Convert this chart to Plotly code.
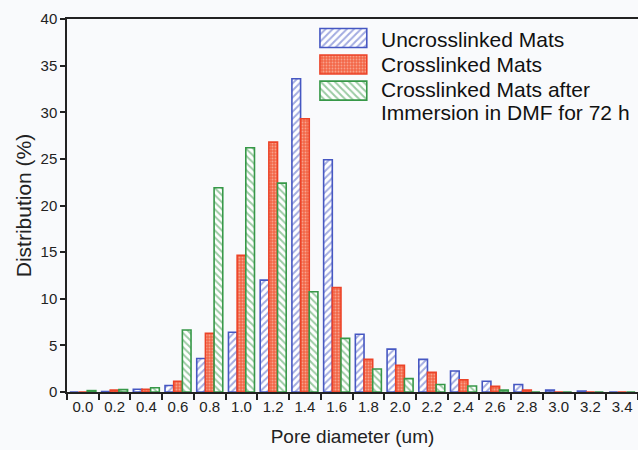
import plotly.graph_objects as go

# ---- data ----
categories = ["0.0", "0.2", "0.4", "0.6", "0.8", "1.0", "1.2", "1.4", "1.6",
              "1.8", "2.0", "2.2", "2.4", "2.6", "2.8", "3.0", "3.2", "3.4"]
uncrosslinked = [0.0, 0.05, 0.3, 0.7, 3.6, 6.4, 12.0, 33.6, 24.9,
                 6.2, 4.6, 3.5, 2.25, 1.15, 0.8, 0.2, 0.1, 0.0]
crosslinked = [0.0, 0.2, 0.3, 1.15, 6.3, 14.65, 26.8, 29.3, 11.2,
               3.5, 2.85, 2.1, 1.3, 0.6, 0.2, 0.0, 0.0, 0.0]
crosslinked_dmf = [0.15, 0.25, 0.45, 6.65, 21.9, 26.2, 22.4, 10.75, 5.75,
                   2.46, 1.43, 0.8, 0.64, 0.2, 0.0, 0.0, 0.0, 0.0]
series_names = ["Uncrosslinked Mats", "Crosslinked Mats",
                "Crosslinked Mats after Immersion in DMF for 72 h"]

# ---- styles ----
BLUE = "#4657c2"
RED = "#ec4328"
GREEN = "#379848"
BG = "#f9fafc"
FONT = "Liberation Sans, Arial, sans-serif"

styles = [
    dict(line=BLUE, shape="/", fg=BLUE, bg="#ffffff", size=5, sol=0.4),
    dict(line=RED, shape=".", fg="#fcdccf", bg="#f36748", size=3, sol=0.3),
    dict(line=GREEN, shape="\\", fg=GREEN, bg="#ffffff", size=5, sol=0.4),
]


def marker_for(st):
    return dict(color=st["bg"], line=dict(color=st["line"], width=1.6),
                pattern=dict(shape=st["shape"], fgcolor=st["fg"], bgcolor=st["bg"],
                             size=st["size"], solidity=st["sol"], fillmode="overlay"))


fig = go.Figure()
for vals, name, st in zip([uncrosslinked, crosslinked, crosslinked_dmf], series_names, styles):
    fig.add_trace(go.Bar(x=categories, y=vals, name=name, showlegend=False,
                         marker=marker_for(st)))

# ---- custom legend (swatches as bars on an overlay axis) ----
leg_y = [0.949, 0.878, 0.808]
for ly, st in zip(leg_y, styles):
    fig.add_trace(go.Bar(
        orientation="h", y=[ly], x=[0.082], base=[0.443], width=0.051, offset=-0.0255,
        xaxis="x2", yaxis="y2", showlegend=False, hoverinfo="skip",
        marker=marker_for(st)))

legend_text_y = [0.944, 0.877, 0.812, 0.748]
legend_lines = ["Uncrosslinked Mats", "Crosslinked Mats",
                "Crosslinked Mats after", "Immersion in DMF for 72 h"]
for ty, txt in zip(legend_text_y, legend_lines):
    fig.add_annotation(x=0.546, y=ty, xref="paper", yref="paper", text=txt,
                       showarrow=False, xanchor="left", yanchor="middle",
                       font=dict(family=FONT, size=21, color="#111111"))

fig.update_layout(
    width=638, height=450,
    margin=dict(l=67, r=0, t=19, b=58),
    paper_bgcolor=BG, plot_bgcolor=BG,
    barmode="group", bargap=0.18, bargroupgap=0.0,
    font=dict(family=FONT, color="#222222"),
    xaxis=dict(
        type="category", showline=True, linecolor="#222222", linewidth=1.5, mirror=True,
        ticks="outside", tickson="boundaries", ticklen=6, tickwidth=1.5, tickcolor="#222222",
        tickfont=dict(size=15), showgrid=False, zeroline=False,
        title=dict(text="Pore diameter (um)", font=dict(size=19), standoff=16),
    ),
    yaxis=dict(
        range=[0, 40], dtick=5, showline=True, linecolor="#222222", linewidth=1.5,
        ticks="outside", ticklen=5, tickwidth=1.5, tickcolor="#222222",
        tickfont=dict(size=15), showgrid=False, zeroline=False,
        title=dict(text="Distribution (%)", font=dict(size=21), standoff=3),
    ),
    xaxis2=dict(overlaying="x", range=[0, 1], visible=False, fixedrange=True),
    yaxis2=dict(overlaying="y", range=[0, 1], visible=False, fixedrange=True),
)

fig.write_html("out.html")
